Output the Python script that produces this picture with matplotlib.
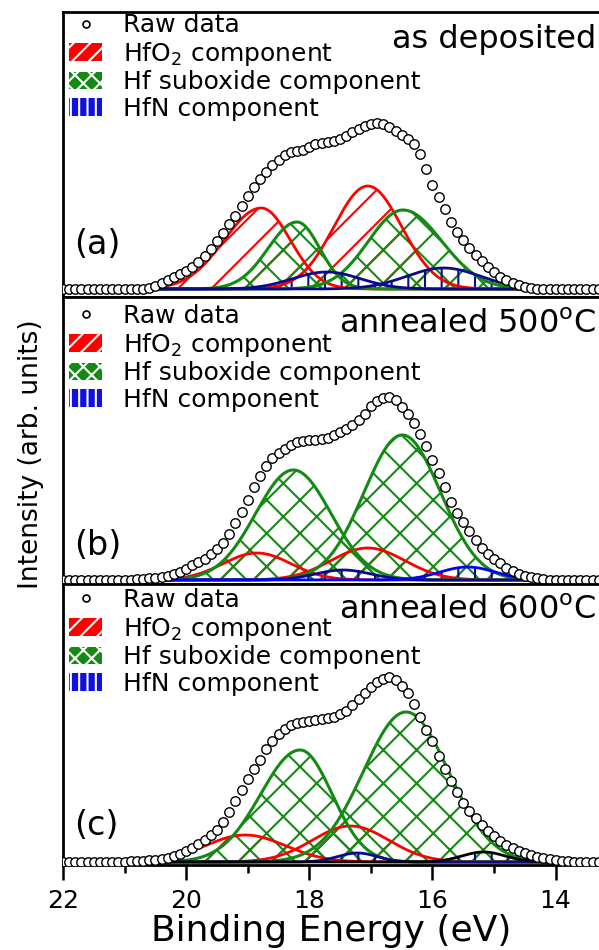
import matplotlib.pyplot as plt
import numpy as np
from matplotlib.patches import Patch
from matplotlib.lines import Line2D

plt.rcParams['hatch.linewidth'] = 1.5

# measured binding energies (eV), 0.1 eV step
energy = np.round(np.arange(22.0, 13.25, -0.1), 1)

raw_a = [0, 0, 0, 0, 0, 0, 0, 0, 0, 0, 0, 0, 0, 0,
         1, 3, 6, 9, 12, 15, 18, 22, 27, 33, 40, 48, 56, 65, 73, 83, 93, 102,
         110, 117, 124, 129, 134, 137, 138, 139, 142, 145, 146, 147, 148, 150,
         153, 157, 160, 163, 165, 166, 165, 162, 158, 154, 150, 145, 135, 120,
         104, 92, 80, 67, 57, 49, 41, 34, 28, 22, 17, 12, 9, 6, 4, 2, 1, 0,
         0, 0, 0, 0, 0, 0, 0, 0, 0, 0]
raw_b = [0, 0, 0, 0, 0, 0, 0, 0, 0, 0, 0, 0,
         1, 1, 2, 2, 3, 4, 6, 8, 11, 15, 18, 21, 26, 31, 37, 46, 57, 68, 80, 93,
         104, 114, 122, 127, 131, 135, 138, 139, 140, 140, 141, 142, 145, 148,
         151, 155, 160, 166, 174, 179, 182, 183, 180, 173, 166, 157, 146, 134,
         120, 107, 93, 78, 67, 58, 49, 40, 32, 26, 21, 17, 12, 9, 6, 4, 3, 2, 1,
         0, 0, 0, 0, 0, 0, 0, 0, 0]
raw_c = [0, 0, 0, 0, 0, 0, 0, 0, 0, 0, 0,
         1, 1, 1, 2, 2, 3, 4, 6, 8, 11, 14, 18, 22, 27, 32, 40, 50, 61, 72, 83,
         93, 102, 113, 121, 128, 133, 137, 139, 140, 141, 142, 143, 144, 145,
         148, 151, 157, 163, 169, 175, 180, 183, 185, 182, 176, 169, 158, 145,
         132, 121, 106, 93, 81, 70, 59, 51, 44, 37, 31, 26, 21, 17, 14, 11, 9,
         7, 5, 4, 3, 2, 1, 1, 0, 0, 0, 0, 0]

# fitted components: (centre eV, height, width high-BE side, width low-BE side)
hfo2_a = [(18.78, 81, 0.60, 0.47), (17.05, 103, 0.55, 0.55)]
subox_a = [(18.20, 67, 0.47, 0.37), (16.48, 79, 0.56, 0.63)]
hfn_a = [(17.72, 17, 0.55, 0.55), (15.82, 21, 0.60, 0.60)]

hfo2_b = [(18.85, 27, 0.55, 0.55), (17.05, 32, 0.60, 0.60)]
subox_b = [(18.26, 110, 0.61, 0.61), (16.49, 145, 0.62, 0.62)]
hfn_b = [(17.45, 10, 0.45, 0.45), (15.43, 13, 0.45, 0.45)]

hfo2_c = [(19.04, 27, 0.65, 0.65), (17.33, 36, 0.62, 0.62)]
subox_c = [(18.15, 112, 0.64, 0.52), (16.43, 150, 0.69, 0.69)]
hfn_c = [(17.22, 9, 0.32, 0.32), (15.17, 10, 0.35, 0.35)]

RED = '#ff0000'
GREEN = '#138a13'
NAVY = '#0a0a8c'


def peak(e, c, h, w_hi, w_lo):
    w = np.where(e > c, w_hi, w_lo)
    return h * np.exp(-(e - c) ** 2 / (2 * w ** 2))


fig = plt.figure(figsize=(5.99, 9.5), dpi=100)
ax_a = fig.add_axes([63 / 599, 1 - 297 / 950, 537 / 599, 285 / 950])
ax_b = fig.add_axes([63 / 599, 1 - 584 / 950, 537 / 599, 287 / 950])
ax_c = fig.add_axes([63 / 599, 1 - 865 / 950, 537 / 599, 281 / 950])

panels = [
    (ax_a, raw_a, hfo2_a, subox_a, hfn_a, [NAVY, NAVY], 'as deposited', '(a)', (-8, 277), 0.185, 0.995),
    (ax_b, raw_b, hfo2_b, subox_b, hfn_b, [NAVY, '#0000ff'], 'annealed 500$^\\mathrm{o}$C', '(b)', (-4, 283), 0.135, 0.975),
    (ax_c, raw_c, hfo2_c, subox_c, hfn_c, [NAVY, 'black'], 'annealed 600$^\\mathrm{o}$C', '(c)', (-3, 278), 0.14, 0.985),
]

e_fine = np.linspace(22.0, 13.2, 700)

for ax, raw, hfo2, subox, hfn, hfn_cols, title, tag, ylim, tag_y, leg_y in panels:
    for p in hfo2:
        y = peak(e_fine, *p)
        ax.fill_between(e_fine, 0, y, facecolor='none', edgecolor=RED, hatch='/', linewidth=0)
        ax.plot(e_fine, y, color=RED, lw=2)
    for p in subox:
        y = peak(e_fine, *p)
        ax.fill_between(e_fine, 0, y, facecolor='none', edgecolor=GREEN, hatch='x', linewidth=0)
        ax.plot(e_fine, y, color=GREEN, lw=2.2)
    for p, col in zip(hfn, hfn_cols):
        y = peak(e_fine, *p)
        ax.fill_between(e_fine, 0, y, facecolor='none', edgecolor=NAVY, hatch='|', linewidth=0)
        ax.plot(e_fine, y, color=col, lw=2)
    ax.plot(energy, raw, 'o', mfc='white', mec='black', ms=6.8, mew=1.0, zorder=5)

    ax.set_xlim(22, 13.28)
    ax.set_ylim(*ylim)
    ax.set_yticks([])
    for s in ax.spines.values():
        s.set_linewidth(2)

    ax.text(0.993, 0.905, title, transform=ax.transAxes, ha='right', va='center', fontsize=23)
    ax.text(0.02, tag_y, tag, transform=ax.transAxes, ha='left', va='center', fontsize=24)

    handles = [
        Line2D([], [], marker='o', ls='none', mfc='white', mec='black', ms=5, mew=1.2),
        Patch(facecolor=RED, edgecolor='white', hatch='//', lw=0),
        Patch(facecolor=GREEN, edgecolor='white', hatch='xx', lw=0),
        Patch(facecolor='#1010e0', edgecolor='white', hatch='||', lw=0),
    ]
    labels = ['Raw data', 'HfO$_2$ component', 'Hf suboxide component', 'HfN component']
    ax.legend(handles, labels, loc='upper left', bbox_to_anchor=(0.012, leg_y),
              frameon=False, fontsize=18, handlelength=1.3, handleheight=0.7,
              handletextpad=0.85, labelspacing=0.1, borderpad=0, borderaxespad=0)

for ax in (ax_a, ax_b):
    ax.tick_params(axis='x', bottom=False, labelbottom=False)

ax_c.set_xticks([22, 20, 18, 16, 14])
ax_c.set_xticks([21, 19, 17, 15], minor=True)
ax_c.tick_params(axis='x', which='major', direction='out', length=11, width=1.8, labelsize=18, pad=6)
ax_c.tick_params(axis='x', which='minor', direction='out', length=5.5, width=1.8)
ax_c.set_xlabel('Binding Energy (eV)', fontsize=26, labelpad=1)

fig.text(0.052, 1 - 454 / 950, 'Intensity (arb. units)', rotation=90, ha='center', va='center', fontsize=19)

fig.savefig('out.png', dpi=100)
